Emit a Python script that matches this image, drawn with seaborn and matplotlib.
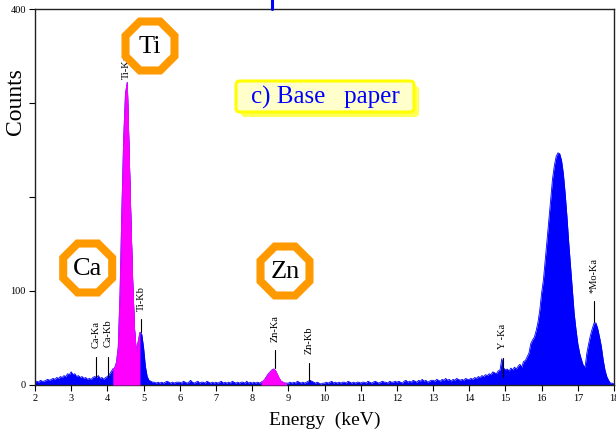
import numpy as np
import pandas as pd
import matplotlib
matplotlib.use("Agg")
import matplotlib.pyplot as plt
from matplotlib.patches import RegularPolygon, FancyBboxPatch
from matplotlib.lines import Line2D
import seaborn as sns

# ---- spectrum: counts per 0.05 keV channel, 2.00 .. 18.00 keV ----
energy_start = 2.0
channel_width = 0.05
counts_2keV = [3, 4, 3, 5, 4, 4, 5, 6, 5, 6, 7, 6, 8, 7, 9, 8, 10, 9, 12, 11]
counts_3keV = [14, 11, 12, 9, 10, 8, 9, 7, 8, 6, 7, 6, 8, 9, 8, 10, 7, 8, 6, 8]
counts_4keV = [9, 11, 14, 17, 18, 24, 40, 98, 185, 262, 310, 322, 250, 175, 110, 60, 35, 46, 56, 54]
counts_5keV = [40, 20, 9, 5, 4, 3, 3, 2, 3, 2, 3, 2, 3, 4, 3, 2, 3, 2, 3, 3]
counts_6keV = [3, 2, 4, 3, 2, 3, 5, 3, 2, 3, 4, 2, 3, 3, 2, 4, 3, 2, 3, 2]
counts_7keV = [3, 2, 3, 4, 2, 3, 2, 3, 2, 4, 3, 2, 3, 2, 3, 3, 2, 4, 2, 3]
counts_8keV = [2, 3, 2, 3, 2, 3, 4, 6, 9, 12, 14, 16, 17, 15, 11, 7, 4, 3, 2, 2]
counts_9keV = [2, 3, 2, 3, 2, 4, 3, 2, 3, 2, 3, 4, 5, 4, 3, 2, 3, 2, 1, 2]
counts_10keV = [2, 3, 2, 3, 4, 2, 3, 2, 3, 2, 3, 3, 2, 4, 3, 2, 3, 2, 3, 3]
counts_11keV = [2, 3, 3, 2, 4, 3, 2, 3, 4, 3, 2, 3, 4, 3, 3, 2, 4, 3, 3, 4]
counts_12keV = [3, 4, 3, 2, 4, 5, 3, 4, 3, 5, 4, 3, 5, 4, 6, 4, 5, 3, 4, 5]
counts_13keV = [5, 4, 6, 5, 4, 6, 5, 7, 5, 6, 4, 6, 5, 7, 6, 5, 6, 5, 7, 6]
counts_14keV = [6, 7, 6, 8, 7, 9, 8, 10, 9, 11, 10, 12, 11, 14, 13, 12, 15, 16, 28, 18]
counts_15keV = [16, 17, 15, 18, 16, 19, 17, 20, 22, 19, 25, 26, 30, 34, 44, 48, 51, 58, 67, 80]
counts_16keV = [98, 112, 133, 154, 176, 197, 219, 233, 243, 247, 246, 239, 225, 204, 179, 151, 126, 101, 76, 59]
counts_17keV = [44, 34, 27, 21, 19, 34, 44, 53, 60, 66, 66, 60, 51, 41, 27, 16, 9, 5, 2, 2]
counts_18keV = [1]

# energy windows of the identified element peaks (shaded magenta)
highlight_windows = [(4.15, 4.90), (8.25, 8.95)]

# emission line markers
line_names = ["Ca-Ka", "Ca-Kb", "Ti-Ka", "Ti-Kb", "Zn-Ka", "Zn-Kb", "Y -Ka", "*Mo-Ka"]
line_energies = [3.69, 4.01, 4.52, 4.94, 8.63, 9.57, 14.93, 17.46]

# element badges
badge_labels = ["Ti", "Ca", "Zn"]

x_tick_values = list(range(2, 19))
y_tick_values = [0, 100, 200, 300, 400]
y_tick_labels = ["0", "100", "", "", "400"]

counts = (counts_2keV + counts_3keV + counts_4keV + counts_5keV + counts_6keV
          + counts_7keV + counts_8keV + counts_9keV + counts_10keV + counts_11keV
          + counts_12keV + counts_13keV + counts_14keV + counts_15keV
          + counts_16keV + counts_17keV + counts_18keV)
energy = np.round(energy_start + channel_width * np.arange(len(counts)), 2)
df = pd.DataFrame({"energy": energy, "counts": counts})

sns.set_theme(style="white")
plt.rcParams["font.family"] = ["Liberation Serif", "DejaVu Serif"]

W, H = 616, 438
fig = plt.figure(figsize=(W / 100, H / 100), dpi=100)
ax = fig.add_axes([35 / W, 53 / H, 579 / W, 376 / H])

BLUE = "#0000FF"
MAGENTA = "#FF00FF"

ax.fill_between(df["energy"], df["counts"], color=BLUE, lw=0, zorder=2)
sns.lineplot(data=df, x="energy", y="counts", color=BLUE, lw=0.6, ax=ax, zorder=2)
for lo, hi in highlight_windows:
    part = df[(df["energy"] >= lo - 1e-9) & (df["energy"] <= hi + 1e-9)]
    ax.fill_between(part["energy"], part["counts"], color=MAGENTA, lw=0, zorder=3)
    sns.lineplot(data=part, x="energy", y="counts", color=MAGENTA, lw=0.6, ax=ax, zorder=3)

ax.set_xlim(2, 18)
ax.set_ylim(0, 400)
ax.set_xticks(x_tick_values)
ax.set_xticklabels([str(v) for v in x_tick_values])
ax.set_yticks(y_tick_values)
ax.set_yticklabels(y_tick_labels)
ax.tick_params(axis="both", bottom=True, left=True, direction="out", length=4,
               width=0.8, color="black", labelsize=7.5, pad=2.5, labelcolor="black")
for s in ax.spines.values():
    s.set_color("#222222")
    s.set_linewidth(1.0)

ax.set_xlabel("Energy  (keV)", fontsize=14, color="black")
ax.xaxis.set_label_coords(0.5, -0.072)
ax.set_ylabel("Counts", fontsize=17, color="black")
ax.yaxis.set_label_coords(-0.016, 0.753)

# line markers: (tick bottom, tick top, label base) in counts
marker_layout = {
    "Ca-Ka": (9, 30, 39),
    "Ca-Kb": (9, 30, 40),
    "Ti-Ka": (None, None, 326),
    "Ti-Kb": (56, 70, 79),
    "Zn-Ka": (18, 37, 46),
    "Zn-Kb": (4, 23, 33),
    "Y -Ka": (9, 29, 38),
    "*Mo-Ka": (67, 89, 98),
}
for name, e in zip(line_names, line_energies):
    lo, hi, base = marker_layout[name]
    if lo is not None:
        ax.plot([e, e], [lo, hi], color="black", lw=0.8, zorder=4)
    ax.text(e, base, name, rotation=90, ha="center", va="bottom",
            fontsize=7.5, color="black", zorder=4)

# ---- decorations in pixel space ----
def px(x, y):
    return x / 100, (H - y) / 100

badge_centers = {"Ti": (150, 46), "Ca": (87.7, 268), "Zn": (285, 271)}
for lab in badge_labels:
    cx, cy = badge_centers[lab]
    oct_patch = RegularPolygon(px(cx, cy), numVertices=8, radius=0.265,
                               orientation=np.pi / 8, facecolor="white",
                               edgecolor="#FF9900", lw=5.8, joinstyle="miter",
                               transform=fig.dpi_scale_trans, zorder=5)
    fig.add_artist(oct_patch)
    fig.text(*px(cx, cy + 1), lab, transform=fig.dpi_scale_trans, ha="center",
             va="center", fontsize=19, color="black", zorder=6)

# title box with drop shadow
bx0, by0, bx1, by1 = 236, 81, 414, 112
shadow = FancyBboxPatch(px(bx0 + 5, by1 + 5), (bx1 - bx0) / 100, (by1 - by0) / 100,
                        boxstyle="round,pad=0,rounding_size=0.04",
                        facecolor="#FFFF55", edgecolor="none",
                        transform=fig.dpi_scale_trans, zorder=5)
box = FancyBboxPatch(px(bx0, by1), (bx1 - bx0) / 100, (by1 - by0) / 100,
                     boxstyle="round,pad=0,rounding_size=0.04",
                     facecolor="#FFFFCC", edgecolor="#FFFF00", lw=2.2,
                     transform=fig.dpi_scale_trans, zorder=6)
fig.add_artist(shadow)
fig.add_artist(box)
fig.text(*px(325, 97), "c) Base   paper", transform=fig.dpi_scale_trans,
         ha="center", va="center", fontsize=18, color=BLUE, zorder=7)

# cut-off connector line above the frame
fig.add_artist(Line2D([2.72, 2.72], [(H - 9) / 100, H / 100], color=BLUE, lw=2.2,
                      transform=fig.dpi_scale_trans, zorder=5))

fig.savefig("out.png", dpi=100)
